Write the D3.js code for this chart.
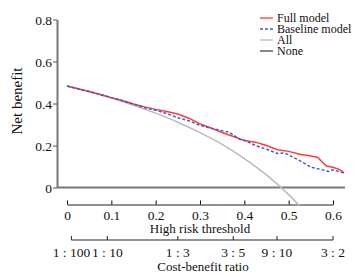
<!DOCTYPE html>
<html><head><meta charset="utf-8">
<script src="https://cdn.jsdelivr.net/npm/d3@7"></script>
<style>
body{margin:0;background:#fff;}
text{font-family:"Liberation Serif","Times New Roman",serif;font-size:13px;fill:#111;}
</style></head>
<body><svg id="c" width="361" height="277"></svg>
<script>
const thresholds = [0,0.025,0.05,0.075,0.1,0.125,0.15,0.175,0.2,0.225,0.25,0.275,0.3,0.325,0.35,0.375,0.4,0.425,0.45,0.475,0.5,0.525,0.55,0.565,0.585,0.6,0.615,0.625];
const fullModel = [0.483,0.470,0.457,0.443,0.428,0.414,0.398,0.384,0.372,0.362,0.350,0.330,0.303,0.283,0.262,0.243,0.224,0.216,0.200,0.180,0.172,0.158,0.150,0.144,0.102,0.096,0.085,0.070];
const baseThresholds = [0,0.025,0.05,0.075,0.1,0.125,0.15,0.175,0.2,0.225,0.25,0.275,0.3,0.325,0.35,0.365,0.39,0.4,0.425,0.45,0.475,0.49,0.5,0.525,0.55,0.575,0.59,0.6,0.625];
const baselineModel = [0.483,0.470,0.457,0.443,0.428,0.413,0.397,0.380,0.368,0.352,0.332,0.318,0.296,0.282,0.270,0.264,0.229,0.225,0.200,0.182,0.162,0.165,0.155,0.128,0.097,0.085,0.076,0.084,0.070];
const allThresholds = [0,0.05,0.1,0.15,0.2,0.25,0.3,0.35,0.4,0.45,0.5,0.525];
const allValues = [0.483,0.456,0.426,0.392,0.354,0.311,0.261,0.205,0.138,0.060,-0.034,-0.088];
const noneRange = [0,0.627];
const yTicks = [0,0.2,0.4,0.6,0.8];
const xTicks = [0,0.1,0.2,0.3,0.4,0.5,0.6];
const cbLabels = ["1 : 100","1 : 10","1 : 3","3 : 5","9 : 10","3 : 2"];
const cbOdds = [1/100,1/10,1/3,3/5,9/10,3/2];
const legendNames = ["Full model","Baseline model","All","None"];

const svg = d3.select("#c");
const x = d3.scaleLinear().domain([0,0.6]).range([67,333]);
const y = d3.scaleLinear().domain([0,0.8]).range([187.5,19.5]);

// Y axis
const yAxis = svg.append("g").attr("transform","translate(57,0)")
  .call(d3.axisLeft(y).tickValues(yTicks).tickFormat(d=>d===0?"0":d3.format(".1f")(d)).tickSize(4).tickSizeOuter(0));
yAxis.select(".domain").attr("stroke","#777").attr("stroke-width",2);
yAxis.selectAll(".tick line").attr("stroke","#555");
yAxis.selectAll("text").attr("font-family",null).attr("font-size",null).style("font-size","13.5px").attr("x",-5).attr("dy","0.35em");

svg.append("text").attr("transform","translate(22,101) rotate(-90)").attr("text-anchor","middle").style("font-size","15px").text("Net benefit");

// None line
svg.append("line").attr("x1",x(noneRange[0])-10).attr("x2",x(noneRange[1])).attr("y1",y(0)).attr("y2",y(0))
  .attr("stroke","#777").attr("stroke-width",2);

// Threshold axis
const xa = svg.append("g").attr("transform","translate(0,204.5)")
  .call(d3.axisTop(x).tickValues(xTicks).tickFormat(d=>d===0?"0":d3.format(".1f")(d)).tickSize(4).tickSizeOuter(0));
xa.select(".domain").attr("stroke","#222");
xa.selectAll("text").attr("font-family",null).attr("font-size",null).style("font-size","13.5px").attr("y",15).attr("dy",0);
svg.append("text").attr("x",200).attr("y",233).attr("text-anchor","middle").text("High risk threshold");

// Cost-benefit axis
const cbPos = cbOdds.map(o=>o/(1+o));
const cb = svg.append("g").attr("transform","translate(0,240)");
cb.append("line").attr("x1",x(cbPos[0])).attr("x2",x(cbPos[cbPos.length-1])).attr("stroke","#222");
cbPos.forEach((p,i)=>{
  cb.append("line").attr("x1",x(p)).attr("x2",x(p)).attr("y1",0).attr("y2",-4).attr("stroke","#222");
  cb.append("text").attr("x",x(p)).attr("y",17).attr("text-anchor","middle").style("font-size","13.5px").text(cbLabels[i]);
});
svg.append("text").attr("x",203).attr("y",271).attr("text-anchor","middle").text("Cost-benefit ratio");

// Curves
const line = d3.line().x(d=>x(d[0])).y(d=>y(d[1]));
svg.append("path").datum(allThresholds.map((t,i)=>[t,allValues[i]]))
  .attr("d",d3.line().curve(d3.curveMonotoneX).x(d=>x(d[0])).y(d=>y(d[1])))
  .attr("fill","none").attr("stroke","#bbb").attr("stroke-width",1.5);
svg.append("path").datum(thresholds.map((t,i)=>[t,fullModel[i]]))
  .attr("d",line).attr("fill","none").attr("stroke","#ff3b3b").attr("stroke-width",1.5);
svg.append("path").datum(baseThresholds.map((t,i)=>[t,baselineModel[i]]))
  .attr("d",line).attr("fill","none").attr("stroke","#3f5fc4").attr("stroke-width",1.5).attr("stroke-dasharray","3,2");

// Legend
const lstyles = [
  {c:"#ff3b3b",d:null},{c:"#3f5fc4",d:"3,2"},{c:"#bbb",d:null},{c:"#444",d:null}
];
legendNames.forEach((n,i)=>{
  const ly = 18 + i*11;
  svg.append("line").attr("x1",260).attr("x2",273).attr("y1",ly).attr("y2",ly)
    .attr("stroke",lstyles[i].c).attr("stroke-width",1.3).attr("stroke-dasharray",lstyles[i].d);
  svg.append("text").attr("x",277).attr("y",ly+4).style("font-size","12px").text(n);
});
</script></body></html>
